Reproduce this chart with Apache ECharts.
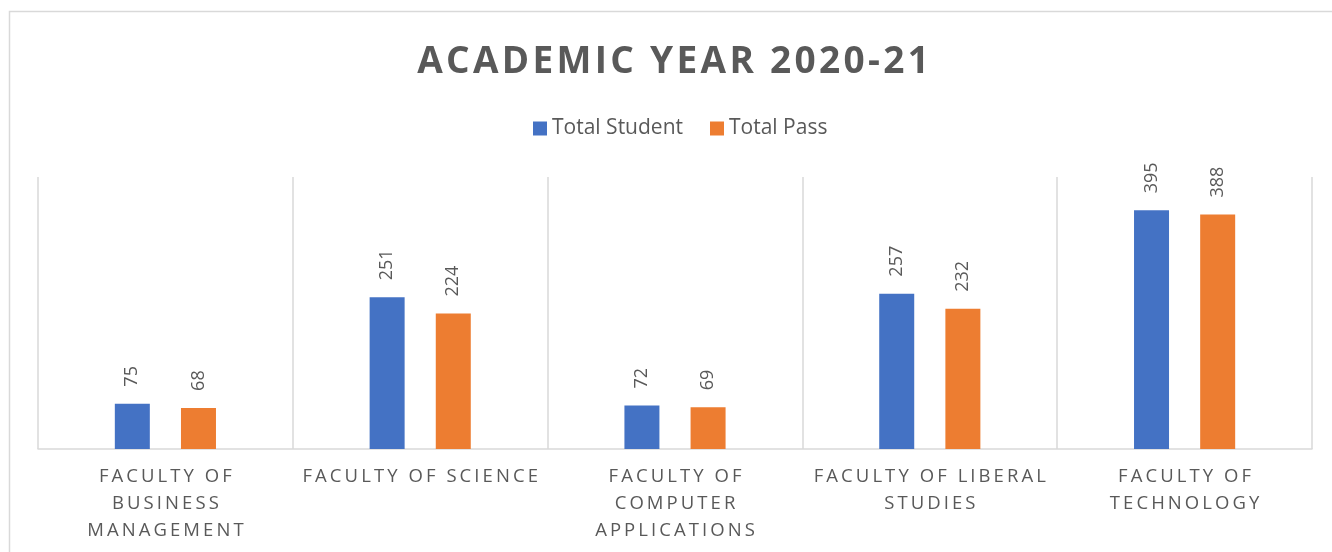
<!DOCTYPE html>
<html>
<head>
<meta charset="utf-8">
<script src="https://cdn.jsdelivr.net/npm/echarts@6/dist/echarts.min.js"></script>
<style>html,body{margin:0;padding:0;background:#fff;}#c{width:1332px;height:552px;}</style>
</head>
<body>
<div id="c"></div>
<script>
const titleText = 'Academic Year 2020-21';
const categories = ['Faculty of Business Management', 'Faculty of Science', 'Faculty of Computer Applications', 'Faculty of Liberal Studies', 'Faculty of Technology'];
const seriesNames = ['Total Student', 'Total Pass'];
const totalStudent = [75, 251, 72, 257, 395];
const totalPass = [68, 224, 69, 232, 388];

const SP = '\u2009';
function spaced(s) {
  return s.toUpperCase().split('').join(SP);
}
function spacedRich(s) {
  return s.toUpperCase().split('').map(c => '{t|' + c + '}').join('{s|' + SP + '}');
}
function wrapWords(s, maxChars) {
  const words = s.toUpperCase().split(' ');
  const lines = [];
  let cur = '';
  words.forEach(w => {
    if (!cur) cur = w;
    else if ((cur + ' ' + w).length <= maxChars) cur += ' ' + w;
    else { lines.push(cur); cur = w; }
  });
  if (cur) lines.push(cur);
  return lines.map(l => l.split(' ').map(spaced).join(SP + ' ' + SP)).join('\n');
}

const chart = echarts.init(document.getElementById('c'));
const font = '"Open Sans", sans-serif';
const labelStyle = { show: true, position: 'top', rotate: 90, align: 'left', verticalAlign: 'middle', distance: 17, fontFamily: font, fontSize: 18, color: '#595959' };
chart.setOption({
  animation: false,
  backgroundColor: '#fff',
  textStyle: { fontFamily: font },
  graphic: [{
    type: 'rect', silent: true,
    shape: { x: 9.5, y: 11.5, width: 1400, height: 600 },
    style: { fill: 'none', stroke: '#d9d9d9', lineWidth: 1.5 }
  }],
  title: {
    text: spacedRich(titleText),
    left: 668, textAlign: 'center', top: 37,
    textStyle: {
      rich: {
        t: { fontFamily: font, fontWeight: 'bold', fontSize: 37, lineHeight: 40, color: '#595959' },
        s: { fontFamily: font, fontWeight: 'bold', fontSize: 20, lineHeight: 40, color: '#595959' }
      }
    }
  },
  legend: {
    top: 113, left: 528,
    itemWidth: 14, itemHeight: 14, itemGap: 27,
    icon: 'rect',
    textStyle: { fontFamily: font, fontSize: 21, color: '#595959' },
    data: seriesNames
  },
  grid: { left: 38, right: 20, top: 177, bottom: 103, containLabel: false },
  xAxis: {
    type: 'category',
    data: categories,
    axisLine: { lineStyle: { color: '#d9d9d9', width: 1.5 } },
    axisTick: { show: false },
    splitLine: { show: true, lineStyle: { color: '#d9d9d9', width: 1.5 } },
    axisLabel: {
      interval: 0,
      margin: 14,
      fontFamily: font, fontSize: 18.5, color: '#595959', lineHeight: 27,
      formatter: v => wrapWords(v, 18)
    }
  },
  yAxis: { type: 'value', min: 0, max: 450, show: false },
  series: [
    {
      name: seriesNames[0], type: 'bar', data: totalStudent,
      barWidth: 35, barGap: '89%',
      itemStyle: { color: '#4472C4' },
      label: labelStyle
    },
    {
      name: seriesNames[1], type: 'bar', data: totalPass,
      barWidth: 35, barGap: '89%',
      itemStyle: { color: '#ED7D31' },
      label: labelStyle
    }
  ]
});
</script>
</body>
</html>
